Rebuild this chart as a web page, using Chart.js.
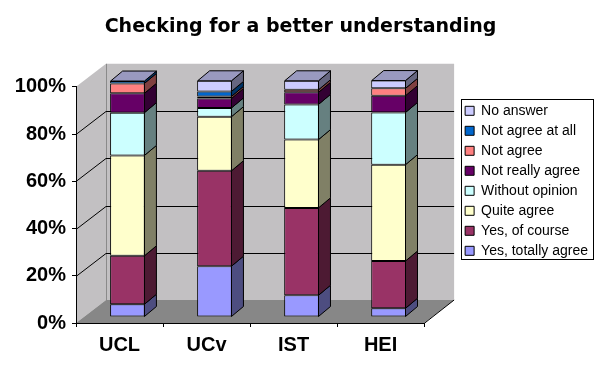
<!DOCTYPE html>
<html>
<head>
<meta charset="utf-8">
<script src="https://cdn.jsdelivr.net/npm/chart.js@4/dist/chart.umd.min.js"></script>
<style>
  html, body { margin: 0; padding: 0; background: #fff; }
  #wrap { width: 605px; height: 376px; }
</style>
</head>
<body>
<div id="wrap"><canvas id="chart" width="605" height="376"></canvas></div>
<script>
// categories and series (stack order, bottom first), values in %
const categories = ['UCL', 'UCv', 'IST', 'HEI'];
const seriesNames = ['Yes, totally agree', 'Yes, of course', 'Quite agree', 'Without opinion',
                     'Not really agree', 'Not agree', 'Not agree at all', 'No answer'];
const yesTotally     = [5.4, 21.5, 9.2, 3.7];
const yesOfCourse    = [20.5, 40.4, 37.0, 20.0];
const quiteAgree     = [42.5, 22.9, 28.9, 40.8];
const withoutOpinion = [18.1, 3.7, 14.9, 22.1];
const notReallyAgree = [8.2, 4.0, 5.1, 7.1];
const notAgree       = [4.2, 0.9, 1.1, 3.1];
const notAgreeAtAll  = [1.0, 2.1, 0, 0];
const noAnswer       = [0, 4.5, 3.8, 3.3];
const seriesColors = ['#9999ff', '#993366', '#ffffcc', '#ccffff', '#660066', '#ff8080', '#0066cc', '#ccccff'];
const yTickStep = 20;

const seriesValues = [yesTotally, yesOfCourse, quiteAgree, withoutOpinion,
                      notReallyAgree, notAgree, notAgreeAtAll, noAnswer];

const FONT = 'Arial, "Liberation Sans", sans-serif';
const WALL = { dx: 30, dy: -23 };   // depth of the 3d box
const BAR = { dx: 8, dy: -6 };      // front face of bars inside the box
const SIDE = { dx: 12, dy: -10 };   // bar depth

function shade(hex, f) {
  const n = parseInt(hex.slice(1), 16);
  const r = Math.round(((n >> 16) & 255) * f);
  const g = Math.round(((n >> 8) & 255) * f);
  const b = Math.round((n & 255) * f);
  return 'rgb(' + r + ',' + g + ',' + b + ')';
}

function poly(ctx, pts, fill, stroke) {
  ctx.beginPath();
  ctx.moveTo(pts[0][0], pts[0][1]);
  for (let i = 1; i < pts.length; i++) ctx.lineTo(pts[i][0], pts[i][1]);
  ctx.closePath();
  if (fill) { ctx.fillStyle = fill; ctx.fill(); }
  if (stroke) { ctx.strokeStyle = stroke; ctx.lineWidth = 1; ctx.stroke(); }
}

const box3d = {
  id: 'box3d',
  beforeDraw(chart) {
    const ctx = chart.ctx;
    const xs = chart.scales.x, ys = chart.scales.y;
    const L = xs.left, R = xs.right, T = ys.top, B = ys.bottom;
    const dx = WALL.dx, dy = WALL.dy;
    ctx.save();
    // side wall, back wall, floor
    poly(ctx, [[L, T], [L + dx, T + dy], [L + dx, B + dy], [L, B]], '#c2c0c2', null);
    poly(ctx, [[L + dx, T + dy], [R + dx, T + dy], [R + dx, B + dy], [L + dx, B + dy]], '#c2c0c2', null);
    poly(ctx, [[L, B], [L + dx, B + dy], [R + dx, B + dy], [R, B]], '#878787', null);
    // edge between side wall and back wall
    ctx.beginPath();
    ctx.moveTo(L + dx + 0.5, T + dy);
    ctx.lineTo(L + dx + 0.5, B + dy);
    ctx.strokeStyle = '#8a8a8a';
    ctx.lineWidth = 1;
    ctx.stroke();
    // gridlines on the walls
    ys.ticks.forEach(t => {
      if (t.value === 0 || t.value >= 100) return;
      const yv = Math.round(ys.getPixelForValue(t.value)) + 0.5;
      ctx.beginPath();
      ctx.moveTo(L, yv);
      ctx.lineTo(L + dx, yv + dy);
      ctx.lineTo(R + dx, yv + dy);
      ctx.strokeStyle = '#000';
      ctx.stroke();
    });
    // floor right edge
    ctx.beginPath();
    ctx.moveTo(R, B + 0.5);
    ctx.lineTo(R + dx, B + dy);
    ctx.strokeStyle = '#000';
    ctx.stroke();
    ctx.restore();
  },
  beforeDatasetsDraw(chart) {
    chart.ctx.save();
    chart.ctx.translate(BAR.dx, BAR.dy);
  },
  afterDatasetsDraw(chart) {
    const ctx = chart.ctx;
    const n = chart.data.datasets.length;
    for (let d = 0; d < n; d++) {
      const meta = chart.getDatasetMeta(d);
      const col = seriesColors[d];
      meta.data.forEach(el => {
        const p = el.getProps(['x', 'y', 'base', 'width'], true);
        const r = p.x + p.width / 2 - 0.5;
        const top = Math.min(p.y, p.base), bot = Math.max(p.y, p.base);
        if (bot - top > 0.2) {
          poly(ctx, [[r, top], [r + SIDE.dx, top + SIDE.dy], [r + SIDE.dx, bot + SIDE.dy], [r, bot]],
               shade(col, 0.5), '#000');
        }
        if (d === n - 1) {
          const l = p.x - p.width / 2 + 0.5;
          poly(ctx, [[l, top], [l + SIDE.dx, top + SIDE.dy], [r + SIDE.dx, top + SIDE.dy], [r, top]],
               shade(col, 0.75), '#000');
        }
      });
    }
    ctx.restore();
  },
  afterDraw(chart) {
    // frame around the legend
    const hb = chart.legend.legendHitBoxes;
    if (!hb || !hb.length) return;
    const ctx = chart.ctx;
    const x1 = Math.min(...hb.map(h => h.left)) - 4;
    const x2 = chart.legend.right - 5;
    const y1 = hb[0].top - 5;
    const y2 = hb[hb.length - 1].top + hb[hb.length - 1].height + 1;
    ctx.save();
    ctx.strokeStyle = '#000';
    ctx.lineWidth = 1;
    ctx.strokeRect(Math.round(x1) + 0.5, Math.round(y1) + 0.5, Math.round(x2 - x1), Math.round(y2 - y1));
    ctx.restore();
  }
};

const datasets = seriesNames.map((name, i) => ({
  label: name,
  data: seriesValues[i],
  backgroundColor: seriesColors[i],
  borderColor: '#000',
  borderWidth: 1,
  borderSkipped: false,
  barPercentage: 0.4,
  categoryPercentage: 1,
  clip: false
}));

const ctx = document.getElementById('chart').getContext('2d');
const chart = new Chart(ctx, {
  type: 'bar',
  data: { labels: categories, datasets: datasets },
  plugins: [box3d],
  options: {
    responsive: false,
    animation: false,
    layout: { padding: { left: 3, right: 7 } },
    plugins: {
      title: {
        display: true,
        text: 'Checking for a better understanding',
        color: '#000',
        font: { family: '"DejaVu Sans", sans-serif', size: 19, weight: 'bold' },
        padding: { top: 16, bottom: 48 }
      },
      legend: {
        position: 'right',
        align: 'start',
        fullSize: false,
        reverse: true,
        title: { display: true, text: '', padding: 0, font: { size: 11, lineHeight: 1 } },
        labels: {
          color: '#000',
          boxWidth: 9,
          boxHeight: 9,
          padding: 6,
          font: { family: FONT, size: 14 }
        }
      },
      tooltip: { enabled: false }
    },
    scales: {
      x: {
        stacked: true,
        grid: { drawOnChartArea: false, drawTicks: true, tickLength: 4, color: '#000' },
        border: { display: true, color: '#000' },
        ticks: { color: '#000', padding: 6, font: { family: FONT, size: 20, weight: 'bold' } },
        afterFit(s) { s.height = 53; }
      },
      y: {
        stacked: true,
        min: 0,
        max: 100,
        grid: { drawOnChartArea: false, drawTicks: true, tickLength: 4, color: '#000' },
        border: { display: true, color: '#000' },
        ticks: {
          stepSize: yTickStep,
          color: '#000',
          padding: 6,
          font: { family: FONT, size: 20, weight: 'bold' },
          callback: v => v + '%'
        },
        afterFit(s) { s.width = 73; }
      },
      yPad: {
        position: 'right',
        display: false,
        afterFit(s) { s.width = 35; }
      }
    }
  }
});
</script>
</body>
</html>
